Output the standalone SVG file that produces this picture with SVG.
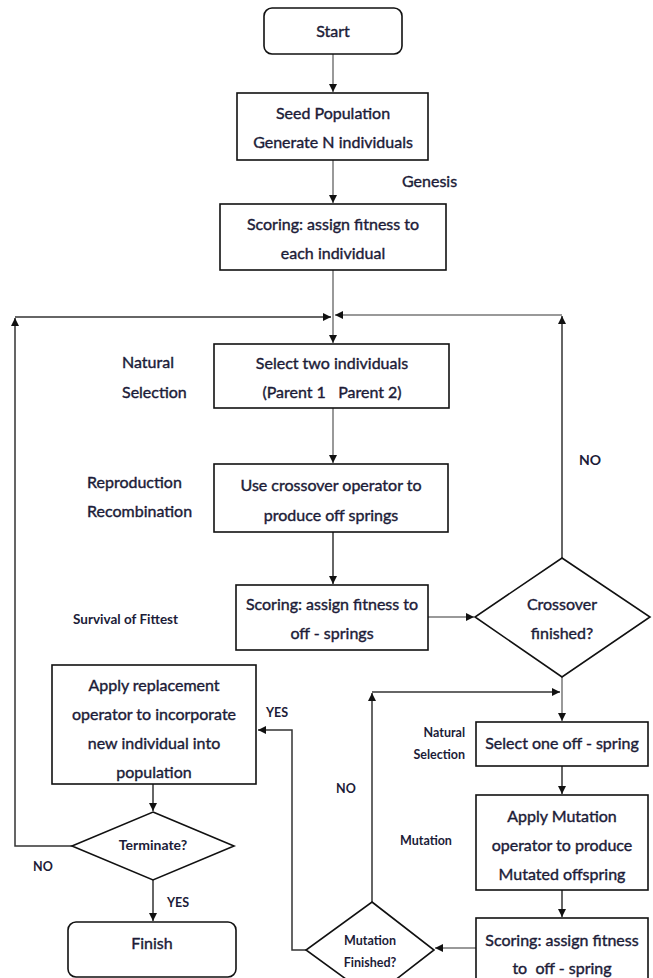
<svg xmlns="http://www.w3.org/2000/svg" width="653" height="978" viewBox="0 0 653 978">
<style>
.box{fill:#fff;stroke:#111;stroke-width:1.6}
.t{font-family:Lato,"Liberation Sans",sans-serif;font-size:16px;fill:#1c1c38;stroke:#1c1c38;stroke-width:0.4;text-anchor:middle}
.l{font-family:Lato,"Liberation Sans",sans-serif;font-size:16px;fill:#1c1c38;stroke:#1c1c38;stroke-width:0.4}
.s{font-family:Lato,"Liberation Sans",sans-serif;font-size:12.5px;font-weight:bold;fill:#1c1c38}
.c{fill:none;stroke:#333;stroke-width:1.5}
.g{fill:none;stroke:#777;stroke-width:1.5}
</style>
<defs>
<marker id="a" viewBox="0 0 10 10" refX="10" refY="5" markerWidth="8" markerHeight="8" markerUnits="userSpaceOnUse" orient="auto"><path d="M0,0L10,5L0,10z" fill="#111"/></marker>
</defs>
<rect width="653" height="978" fill="#fff"/>
<g id="connectors">
<path class="g" d="M333,54V92" marker-end="url(#a)"/>
<path class="g" d="M333,160V203" marker-end="url(#a)"/>
<path class="g" d="M333,270V343" marker-end="url(#a)"/>
<path class="c" d="M72,846H15V318" marker-end="url(#a)"/>
<path class="c" d="M15,317H331" marker-end="url(#a)"/>
<path class="c" d="M562,558V316" marker-end="url(#a)"/>
<path class="g" d="M562,315H335" marker-end="url(#a)"/>
<path class="g" d="M333,408V463" marker-end="url(#a)"/>
<path class="c" d="M333,532V584" marker-end="url(#a)"/>
<path class="g" d="M428,617H474" marker-end="url(#a)"/>
<path class="g" d="M562,677V721" marker-end="url(#a)"/>
<path class="c" d="M372,902V693" marker-end="url(#a)"/>
<path class="c" d="M372,692H560" marker-end="url(#a)"/>
<path class="c" d="M562,766V794" marker-end="url(#a)"/>
<path class="c" d="M562,890V917" marker-end="url(#a)"/>
<path class="g" d="M476,948H435" marker-end="url(#a)"/>
<path class="c" d="M306,950H292V730H258" marker-end="url(#a)"/>
<path class="c" d="M153,784V811" marker-end="url(#a)"/>
<path class="c" d="M153,880V921" marker-end="url(#a)"/>
</g>
<g id="start"><rect class="box" x="264" y="8" width="138" height="46" rx="8"/><text class="t" x="333" y="37">Start</text></g>
<g id="seed"><rect class="box" x="237" y="93" width="191" height="67"/><text class="t" x="333" y="119">Seed Population</text><text class="t" x="333" y="148">Generate N individuals</text></g>
<g id="genesis"><text class="l" x="402" y="187">Genesis</text></g>
<g id="scoring1"><rect class="box" x="220" y="204" width="226" height="66"/><text class="t" x="333" y="230">Scoring: assign fitness to</text><text class="t" x="333" y="259">each individual</text></g>
<g id="select2"><rect class="box" x="214" y="344" width="235" height="64"/><text class="t" x="332" y="369">Select two individuals</text><text class="t" x="332" y="398" xml:space="preserve">(Parent 1   Parent 2)</text></g>
<g id="lbl-natsel"><text class="l" x="122" y="368">Natural</text><text class="l" x="122" y="398">Selection</text></g>
<g id="crossover-op"><rect class="box" x="214" y="464" width="234" height="68"/><text class="t" x="331" y="491">Use crossover operator to</text><text class="t" x="331" y="521">produce off springs</text></g>
<g id="lbl-repro"><text class="l" x="87" y="488">Reproduction</text><text class="l" x="87" y="517">Recombination</text></g>
<g id="scoring2"><rect class="box" x="236" y="585" width="192" height="65"/><text class="t" x="332" y="610">Scoring: assign fitness to</text><text class="t" x="332" y="639">off - springs</text></g>
<g id="lbl-survival"><text class="s" x="73" y="624" style="font-size:13.5px">Survival of Fittest</text></g>
<g id="crossover-finished"><polygon class="box" points="562,558 650,617 562,677 475,617"/><text class="t" x="562" y="610">Crossover</text><text class="t" x="562" y="639">finished?</text></g>
<g id="lbl-no1"><text class="s" x="579" y="465" style="font-size:14px">NO</text></g>
<g id="replace"><rect class="box" x="52" y="665" width="204" height="119"/><text class="t" x="154" y="691">Apply replacement</text><text class="t" x="154" y="720">operator to incorporate</text><text class="t" x="154" y="749">new individual into</text><text class="t" x="154" y="778">population</text></g>
<g id="lbl-yes1"><text class="s" x="266" y="717">YES</text></g>
<g id="select1"><rect class="box" x="476" y="722" width="172" height="44"/><text class="t" x="562" y="749">Select one off - spring</text></g>
<g id="lbl-natsel2"><text class="s" x="465" y="737" text-anchor="end">Natural</text><text class="s" x="465" y="759" text-anchor="end">Selection</text></g>
<g id="mutate"><rect class="box" x="476" y="795" width="172" height="95"/><text class="t" x="562" y="822">Apply Mutation</text><text class="t" x="562" y="851">operator to produce</text><text class="t" x="562" y="880">Mutated offspring</text></g>
<g id="lbl-mutation"><text class="s" x="400" y="845">Mutation</text></g>
<g id="lbl-no2"><text class="s" x="336" y="793">NO</text></g>
<g id="scoring3"><rect class="box" x="476" y="918" width="172" height="80"/><text class="t" x="562" y="946">Scoring: assign fitness</text><text class="t" x="562" y="974" xml:space="preserve">to  off - spring</text></g>
<g id="mutation-finished"><polygon class="box" points="372,902 434,950 372,998 306,950"/><text class="s" x="370" y="945" text-anchor="middle">Mutation</text><text class="s" x="370" y="967" text-anchor="middle">Finished?</text></g>
<g id="terminate"><polygon class="box" points="153,812 234,846 153,880 72,846"/><text class="s" x="153" y="850" text-anchor="middle" style="font-size:14px">Terminate?</text></g>
<g id="lbl-no3"><text class="s" x="33" y="871">NO</text></g>
<g id="lbl-yes2"><text class="s" x="167" y="907">YES</text></g>
<g id="finish"><rect class="box" x="68" y="922" width="168" height="55" rx="8"/><text class="t" x="152" y="949">Finish</text></g>
</svg>
